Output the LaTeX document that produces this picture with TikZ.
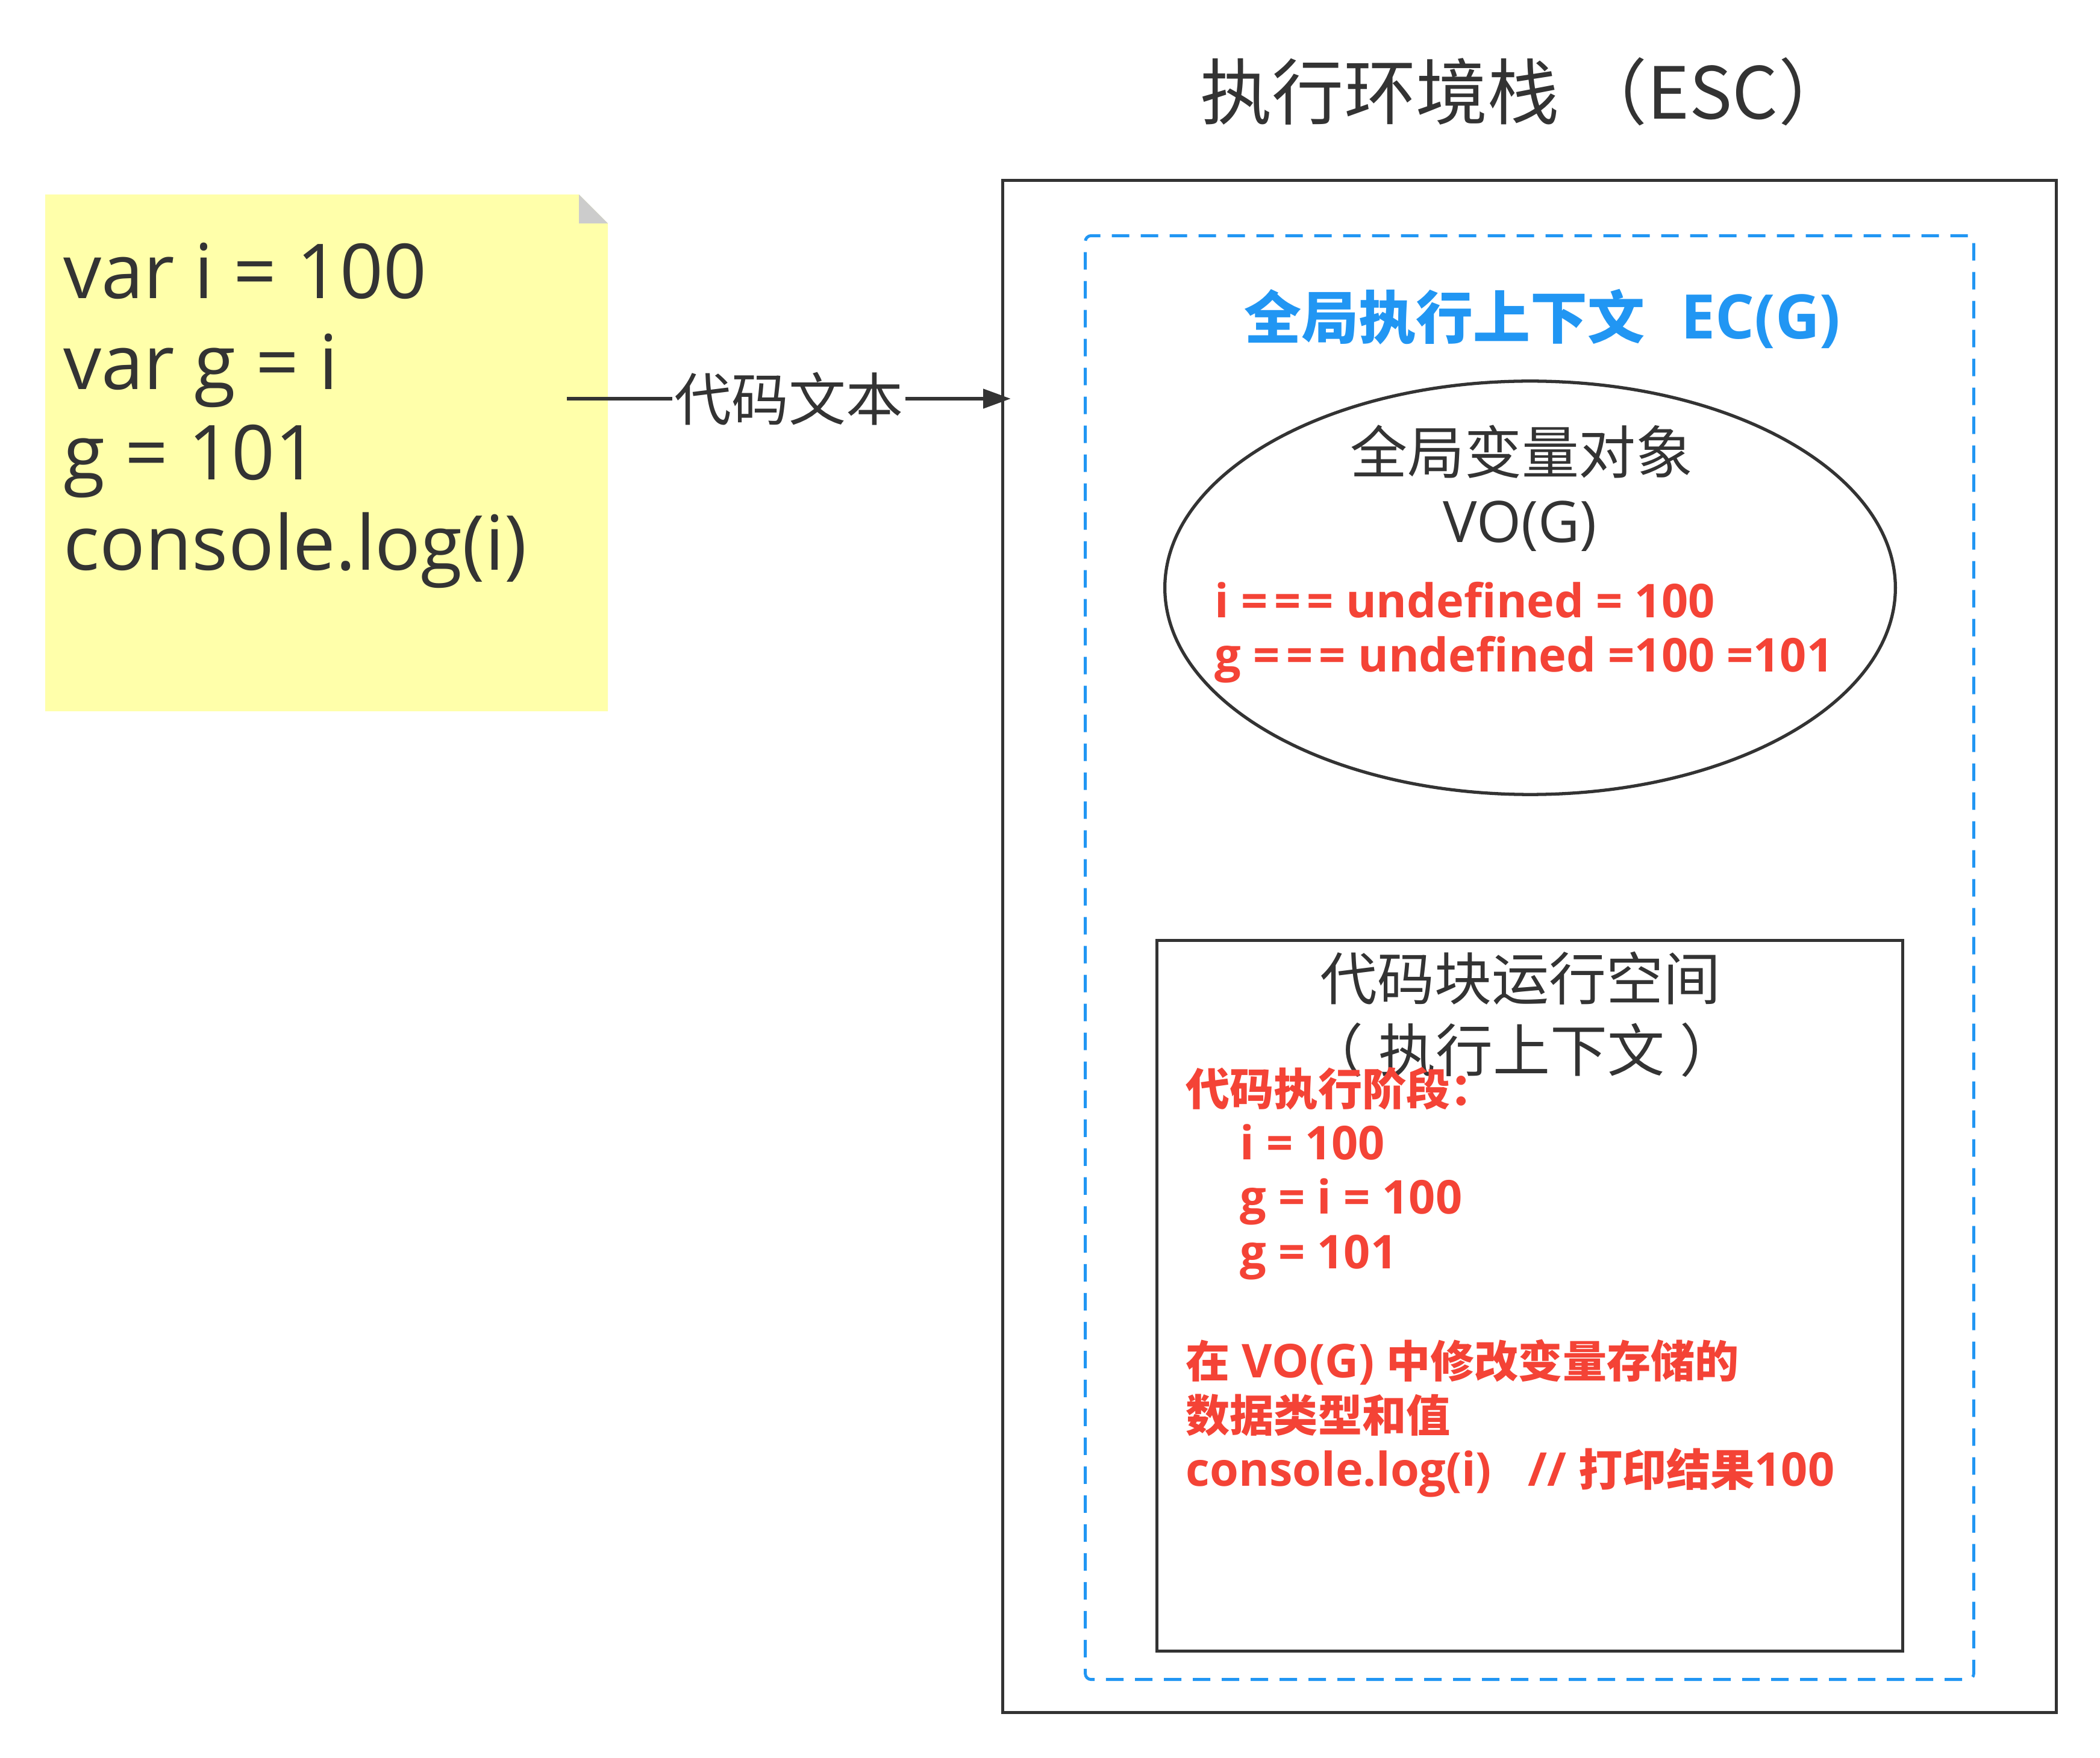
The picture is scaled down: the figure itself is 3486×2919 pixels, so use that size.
\documentclass[tikz,border=0pt]{standalone}
\usepackage{fontspec}
\setmainfont{Open Sans}
\newfontfamily\cjk{Noto Sans CJK SC}
\newfontfamily\cjkr{Noto Sans CJK SC}[Scale=0.945]
\usetikzlibrary{arrows.meta,shapes.geometric,calc}
\definecolor{ink}{HTML}{333333}
\definecolor{bluec}{HTML}{2196F3}
\definecolor{redc}{HTML}{F44336}
\definecolor{notey}{HTML}{FFFFAA}
\definecolor{foldg}{HTML}{CCCCCC}
\newcommand{\eqq}{=\kern3pt=\kern3pt=}
\tikzset{
  txt/.style={inner sep=0pt, text=ink},
  notetxt/.style={txt, anchor=base west, font=\fontsize{35.8}{43}\selectfont},
  bigtxt/.style={txt, font=\cjk\fontsize{27}{32}\selectfont},
  redtxt/.style={inner sep=0pt, text=redc, anchor=base west, font=\bfseries\fontsize{22}{26}\selectfont},
  boxline/.style={draw=ink, line width=1.5pt, inner sep=0pt},
  dashbox/.style={draw=bluec, line width=1.4pt, inner sep=0pt, rounded corners=2.8pt, dash pattern=on 8.25pt off 5.4pt},
  conn/.style={draw=ink, line width=1.6pt, -{Triangle[length=13pt,width=9pt]}},
}
\begin{document}
\begin{tikzpicture}[x=0.01cm,y=-0.01cm]
\useasboundingbox[fill=white] (0,0) rectangle (3486,2919);

% sticky note
\fill[notey] (75,323) -- (961,323) -- (1009,371) -- (1009,1181) -- (75,1181) -- cycle;
\fill[foldg] (961,323) -- (961,371) -- (1009,371) -- cycle;
\node[inner sep=0pt, minimum width=9.34cm, minimum height=8.58cm] (note) at (542,752) {};
\node[notetxt] (n1) at (105,496) {var i = 100};
\node[notetxt] (n2) at (105,647) {var g = i};
\node[notetxt] (n3) at (105,797) {g = 101};
\node[notetxt] (n4) at (105,947) {console.log(i)};

% title
\node[txt, anchor=base west, font=\cjk\fontsize{33.9}{40}\selectfont] (title) at (1992,198) {执行环境栈 （ESC）};

% boxes
\node[boxline, minimum width=17.48cm, minimum height=25.43cm] (esc) at (2539,1571.5) {};
\node[dashbox, minimum width=14.74cm, minimum height=23.96cm] (ecg) at (2539,1590) {};
\node[inner sep=0pt, text=bluec, anchor=base west, font=\bfseries\fontsize{27}{32}\selectfont] (ectitle) at (2065,563) {{\cjk 全局执行上下文}\hspace{0.6cm}{\fontsize{29}{32}\selectfont EC(G)}};

% ellipse
\node[boxline, ellipse, minimum width=12.12cm, minimum height=6.86cm] (vo) at (2540,976) {};
\node[bigtxt, anchor=base] (vo1) at (2526,787) {全局变量对象};
\node[txt, anchor=base, font=\fontsize{27}{32}\selectfont] (vo2) at (2523,901) {VO(G)};
\node[redtxt] (vr1) at (2016,1026) {i \eqq{} undefined = 100};
\node[redtxt] (vr2) at (2016,1116) {g \eqq{} undefined =100 =101};

% code block box
\node[boxline, minimum width=12.37cm, minimum height=11.79cm] (code) at (2539.5,2151.5) {};
\node[bigtxt, anchor=base] (c1) at (2524,1661) {代码块运行空间};
\node[bigtxt, anchor=base] (c2) at (2526,1780) {\kern-0.25cm（\kern0.25cm执行上下文\kern0.25cm）\kern-0.25cm};
\node[redtxt] (r1) at (1968,1835) {\cjkr 代码执行阶段：};
\node[redtxt] (r2) at (2058,1925) {i = 100};
\node[redtxt] (r3) at (2058,2015) {g = i = 100};
\node[redtxt] (r4) at (2058,2106) {g = 101};
\node[redtxt] (r5) at (1968,2287) {{\cjkr 在} VO(G) {\cjkr 中修改变量存储的}};
\node[redtxt] (r6) at (1968,2377) {\cjkr 数据类型和值};
\node[redtxt] (r7) at (1968,2467) {console.log(i)\hspace{0.6cm}// {\cjkr 打印结果}100};

% connector
\coordinate (aS) at (941,662);
\draw[conn] (aS) -- ($(esc.west |- aS)+(16,0)$)
  node[midway, fill=white, inner xsep=1pt, inner ysep=0pt, text=ink, font=\cjk\fontsize{27}{32}\selectfont] (lbl) {代码文本};
\end{tikzpicture}
\end{document}
